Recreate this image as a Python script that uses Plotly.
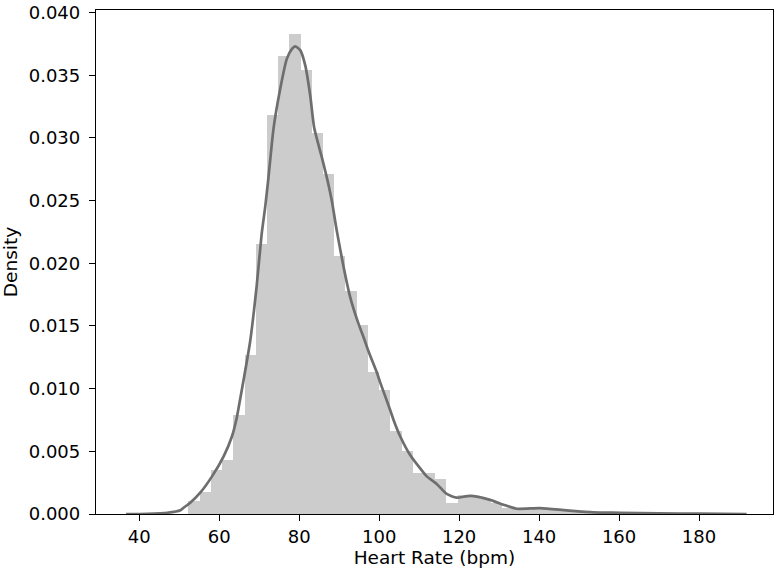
import plotly.graph_objects as go

# Histogram bins (centres, bpm) and densities
bin_width = 2.805
bin_centers = [53.70, 56.51, 59.31, 62.12, 64.92, 67.73, 70.53, 73.34, 76.14, 78.95,
               81.75, 84.56, 87.36, 90.17, 92.97, 95.78, 98.58, 101.39, 104.19, 107.00,
               109.80, 112.61, 115.41, 118.22, 121.02, 123.83, 126.63, 129.44, 132.24, 135.05,
               137.85, 140.66, 143.46, 146.27, 149.07, 151.88, 154.68]
bin_density = [0.0010, 0.00175, 0.0035, 0.0043, 0.0079, 0.0127, 0.0215, 0.0318, 0.0365, 0.0383,
               0.0354, 0.0304, 0.0271, 0.0206, 0.0178, 0.0151, 0.0113, 0.0099, 0.0066, 0.0050,
               0.0033, 0.0033, 0.0028, 0.0009, 0.0015, 0.0014, 0.0012, 0.0009, 0.0005, 0.0004,
               0.0004, 0.0004, 0.0003, 0.0002, 0.0002, 0.00015, 0.0001]

# KDE curve points
kde_x = [36.7, 42.0, 47.0, 50.3, 51.1, 52.75, 55.25, 58.2, 61.1, 63.2, 64.4, 65.25, 66.1,
         67.75, 69.4, 70.6, 71.5, 72.3, 73.6, 75.25, 76.9, 78.2, 79.0, 80.25, 81.5, 82.75,
         83.75, 85.7, 87.3, 88.2, 89.4, 91.1, 92.75, 94.8, 96.1, 97.3, 99.4, 100.25, 102.75,
         103.6, 105.25, 107.75, 111.1, 111.9, 114.4, 116.9, 119.4, 122.75, 127.75, 131.1,
         134.4, 140.25, 146.9, 153.6, 160.25, 170.0, 180.0, 191.9]
kde_y = [0.0, 0.00002, 0.0001, 0.0003, 0.0005, 0.0009, 0.0017, 0.0030, 0.0046, 0.0062, 0.0077,
         0.0092, 0.0107, 0.0138, 0.0183, 0.0223, 0.0245, 0.0268, 0.0308, 0.0339, 0.0363, 0.0371,
         0.0373, 0.0370, 0.0358, 0.0334, 0.0308, 0.0284, 0.0263, 0.0249, 0.0226, 0.0197, 0.0173,
         0.0152, 0.0141, 0.0130, 0.0113, 0.0105, 0.0083, 0.0075, 0.0062, 0.0047, 0.0033, 0.0030,
         0.0024, 0.0016, 0.0013, 0.00145, 0.00113, 0.00074, 0.00042, 0.00047, 0.00029, 0.00013,
         0.0001, 0.00005, 0.00003, 0.0]

x_ticks = [40, 60, 80, 100, 120, 140, 160, 180]
y_ticks = [0.000, 0.005, 0.010, 0.015, 0.020, 0.025, 0.030, 0.035, 0.040]

font_family = "DejaVu Sans"

fig = go.Figure()
fig.add_trace(go.Bar(
    x=bin_centers, y=bin_density, width=bin_width,
    marker=dict(color="#cccccc", line=dict(width=0)),
    showlegend=False, hoverinfo="x+y",
))
fig.add_trace(go.Scatter(
    x=kde_x, y=kde_y, mode="lines",
    line=dict(color="#6e6e6e", width=2.7, shape="spline", smoothing=0.6),
    showlegend=False,
))

axis_common = dict(
    showline=True, linecolor="black", linewidth=1.3, mirror=True,
    ticks="outside", ticklen=6, tickwidth=1.3, tickcolor="black",
    showgrid=False, zeroline=False, automargin=False,
    ticklabeloverflow="allow",
    tickfont=dict(family=font_family, size=18, color="black"),
)

fig.update_layout(
    width=780, height=576,
    margin=dict(l=96, r=7, t=10, b=62),
    paper_bgcolor="white", plot_bgcolor="white",
    bargap=0,
    font=dict(family=font_family, color="black"),
    xaxis=dict(
        range=[29.18, 198.5], tickvals=x_ticks,
        title=dict(text="Heart Rate (bpm)", font=dict(family=font_family, size=18.5, color="black"), standoff=4),
        **axis_common,
    ),
    yaxis=dict(
        range=[0, 0.0402], tickvals=y_ticks, tickformat=".3f",
        ticklabelstandoff=5,
        title=dict(text="Density", font=dict(family=font_family, size=18.5, color="black"), standoff=6),
        **axis_common,
    ),
)

fig.write_html("out.html", config={"displayModeBar": False},
               post_script="document.body.style.margin='0px';")
